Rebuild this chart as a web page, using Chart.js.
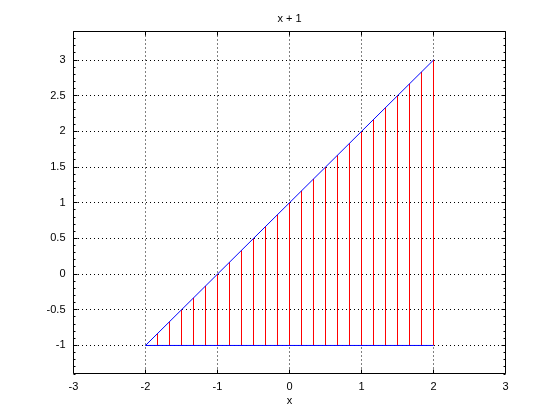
<!DOCTYPE html>
<html>
<head>
<meta charset="utf-8">
<script src="https://cdn.jsdelivr.net/npm/chart.js@4/dist/chart.umd.min.js"></script>
<style>
  html, body { margin: 0; padding: 0; background: #ffffff; }
  #c { display: block; }
</style>
</head>
<body>
<canvas id="c" width="560" height="420"></canvas>
<script>
// ---- data ----
const titleText = 'x + 1';
const xLabelText = 'x';
const stemX = [-2, -1.8333, -1.6667, -1.5, -1.3333, -1.1667, -1, -0.8333, -0.6667, -0.5, -0.3333, -0.1667,
               0, 0.1667, 0.3333, 0.5, 0.6667, 0.8333, 1, 1.1667, 1.3333, 1.5, 1.6667, 1.8333, 2];
const stemTop = [-1, -0.8333, -0.6667, -0.5, -0.3333, -0.1667, 0, 0.1667, 0.3333, 0.5, 0.6667, 0.8333,
                 1, 1.1667, 1.3333, 1.5, 1.6667, 1.8333, 2, 2.1667, 2.3333, 2.5, 2.6667, 2.8333, 3];
const stemBase = -1;
const lineX = [-2, 2];
const lineY = [-1, 3];
const baseX = [-2, 2];
const baseY = [-1, -1];
const xTicks = [-3, -2, -1, 0, 1, 2, 3];
const yTicks = [-1, -0.5, 0, 0.5, 1, 1.5, 2, 2.5, 3];
const xRange = [-3, 3];
const yRange = [-1.4, 3.4];

// ---- build datasets ----
const stemData = [];
stemX.forEach((x, i) => {
  stemData.push({x: x, y: stemBase});
  stemData.push({x: x, y: stemTop[i]});
  stemData.push({x: x, y: null});
});
const diagData = lineX.map((x, i) => ({x: x, y: lineY[i]}));
const baseData = baseX.map((x, i) => ({x: x, y: baseY[i]}));

Chart.defaults.font.family = '"Liberation Sans", Arial, Helvetica, sans-serif';
Chart.defaults.font.size = 11;
Chart.defaults.color = '#000000';

const boxPlugin = {
  id: 'matlabBox',
  afterDraw(chart) {
    const ctx = chart.ctx;
    const a = chart.chartArea;
    const xs = chart.scales.x, ys = chart.scales.y;
    const L = Math.round(a.left - 0.5) + 0.5, R = Math.round(a.right - 0.5) + 0.5;
    const T = Math.floor(a.top) + 0.5, B = Math.floor(a.bottom) - 0.5;
    ctx.save();
    ctx.strokeStyle = '#000000';
    ctx.lineWidth = 1;
    ctx.setLineDash([]);
    ctx.beginPath();
    ctx.rect(L, T, R - L, B - T);
    ctx.stroke();
    ctx.beginPath();
    xTicks.forEach(v => {
      const px = Math.round(xs.getPixelForValue(v) - 0.5) + 0.5;
      ctx.moveTo(px, B); ctx.lineTo(px, B - 4);
      ctx.moveTo(px, T); ctx.lineTo(px, T + 4);
    });
    yTicks.forEach(v => {
      const py = Math.round(ys.getPixelForValue(v) - 0.5) + 0.5;
      ctx.moveTo(L, py); ctx.lineTo(L + 4, py);
      ctx.moveTo(R, py); ctx.lineTo(R - 4, py);
    });
    for (let k = -14; k <= 34; k++) {
      const v = k / 10;
      const py = Math.round(ys.getPixelForValue(v) - 0.5) + 0.5;
      ctx.moveTo(L, py); ctx.lineTo(L + 2, py);
      ctx.moveTo(R, py); ctx.lineTo(R - 2, py);
    }
    ctx.stroke();
    ctx.fillStyle = '#000000';
    ctx.font = '11px "Liberation Sans", Arial, Helvetica, sans-serif';
    ctx.textAlign = 'center';
    ctx.textBaseline = 'alphabetic';
    const cx = (a.left + a.right) / 2;
    ctx.fillText(titleText, cx, 22);
    ctx.fillText(xLabelText, cx, 404);
    ctx.restore();
  }
};

new Chart(document.getElementById('c'), {
  type: 'line',
  data: {
    datasets: [
      { data: diagData, borderColor: '#0000ff', backgroundColor: '#0000ff', borderWidth: 1, pointRadius: 0, order: 0 },
      { data: baseData, borderColor: '#0000ff', backgroundColor: '#0000ff', borderWidth: 1, pointRadius: 0, order: 0 },
      { data: stemData, spanGaps: false, borderColor: '#ff0000', backgroundColor: '#ff0000', borderWidth: 1, pointRadius: 0, order: 1 }
    ]
  },
  options: {
    responsive: false,
    animation: false,
    layout: { padding: { left: 0, top: 31.5, right: 54.5, bottom: 0 } },
    plugins: { legend: { display: false }, tooltip: { enabled: false }, title: { display: false } },
    scales: {
      x: {
        type: 'linear', min: xRange[0], max: xRange[1],
        afterBuildTicks: s => { s.ticks = xTicks.map(v => ({value: v})); },
        afterFit: s => { s.height = 46; },
        ticks: { padding: 6, maxRotation: 0, autoSkip: false, color: '#000000', callback: v => String(v) },
        grid: {
          drawTicks: false,
          color: ctx => (ctx.tick && (ctx.tick.value === xRange[0] || ctx.tick.value === xRange[1])) ? 'rgba(0,0,0,0)' : '#000000',
          lineWidth: 1
        },
        border: { display: false, dash: [1, 3] }
      },
      y: {
        type: 'linear', min: yRange[0], max: yRange[1],
        afterBuildTicks: s => { s.ticks = yTicks.map(v => ({value: v})); },
        afterFit: s => { s.width = 73.5; },
        ticks: { padding: 8, autoSkip: false, color: '#000000', callback: v => String(v) },
        grid: { drawTicks: false, color: '#000000', lineWidth: 1 },
        border: { display: false, dash: [1, 3] }
      }
    }
  },
  plugins: [boxPlugin]
});
</script>
</body>
</html>
